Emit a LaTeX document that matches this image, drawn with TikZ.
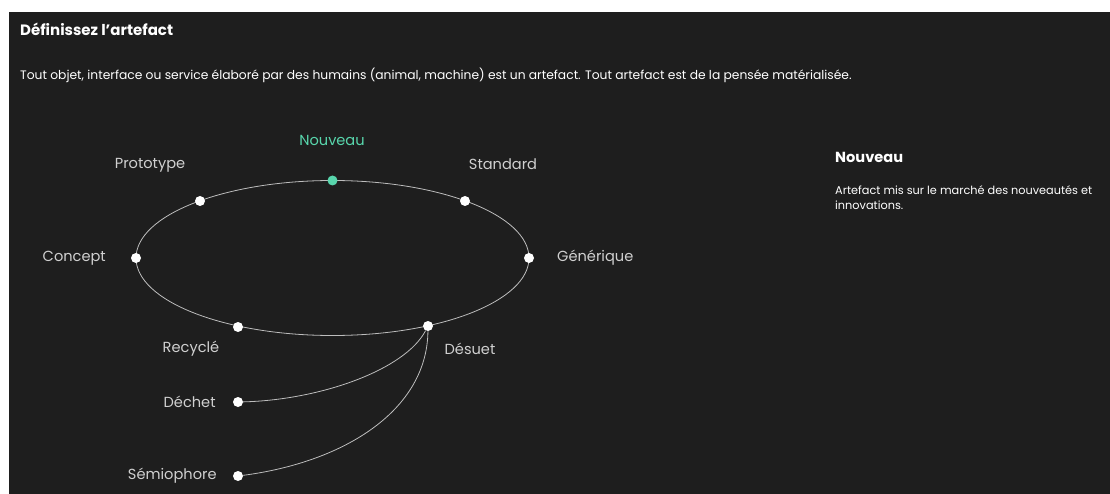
\documentclass[tikz,border=0pt]{standalone}
\usepackage{fontspec}
\setmainfont{Poppins}
\usepackage{tikz}
\usetikzlibrary{positioning}
\definecolor{fond}{HTML}{1E1E1E}
\definecolor{trait}{HTML}{BDBDBD}
\definecolor{etiq}{HTML}{D0D0D0}
\definecolor{menthe}{HTML}{58D6AC}

\begin{document}
\begin{tikzpicture}[x=1pt, y=-1pt,
          point/.style={circle, fill=white, inner sep=0pt, minimum size=10pt},
          etape/.style={text=etiq, font=\fontsize{14.6}{16}\selectfont, inner sep=0pt},
          lien/.style={draw=trait, line width=0.8pt}
        ]
        \useasboundingbox (0,0) rectangle (1110,494);
        \fill[white] (0,0) rectangle (1110,494);
        \fill[fond] (9,12) rectangle (1110,494);

        % titre et texte
        \node[anchor=west, inner sep=0pt, text=white, font=\fontsize{15}{17}\bfseries\selectfont] (titre) at (20,29) {Définissez l’artefact};
        \node[anchor=west, inner sep=0pt, text=white, font=\fontsize{12.3}{14}\selectfont] (intro) at (20,75) {Tout objet, interface ou service élaboré par des humains (animal, machine) est un artefact. Tout artefact est de la pensée matérialisée.};

        % cycle de vie
        \draw[lien] (332.5,258) ellipse [x radius=196.5, y radius=77.5];
        \node[point, fill=menthe] (nouveau) at (332.5,180.5) {};
        \node[point] (standard)  at (465,201) {};
        \node[point] (generique) at (529,258) {};
        \node[point] (desuet)    at (428,326) {};
        \node[point] (recycle)   at (238,327) {};
        \node[point] (concept)   at (136,258) {};
        \node[point] (prototype) at (200,201) {};

        % sorties
        \node[point] (dechet) at (238,402) {};
        \node[point] (semio)  at (238,476) {};
        \draw[lien] (desuet) .. controls (405,370) and (320,400) .. (dechet);
        \draw[lien] (desuet) .. controls (427,410) and (345,462) .. (semio);

        % etiquettes
        \node[etape, text=menthe] at (332,140) {Nouveau};
        \node[etape] at (150,165) {Prototype};
        \node[etape] at (503,164) {Standard};
        \node[etape, anchor=east] at (106,258) {Concept};
        \node[etape, anchor=west] at (557,258) {Générique};
        \node[etape] at (191,349) {Recyclé};
        \node[etape] at (470,349) {Désuet};
        \node[etape, left=17pt of dechet] {Déchet};
        \node[etape, left=16pt of semio] {Sémiophore};

        % panneau de droite
        \node[anchor=west, inner sep=0pt, text=white, font=\fontsize{14.6}{16}\bfseries\selectfont] (choix) at (835,157) {Nouveau};
        \node[anchor=north west, inner sep=0pt, text=white, align=left, font=\fontsize{11.3}{15}\selectfont] (def) at (835,185) {Artefact mis sur le marché des nouveautés et\\innovations.};
      \end{tikzpicture}
\end{document}
